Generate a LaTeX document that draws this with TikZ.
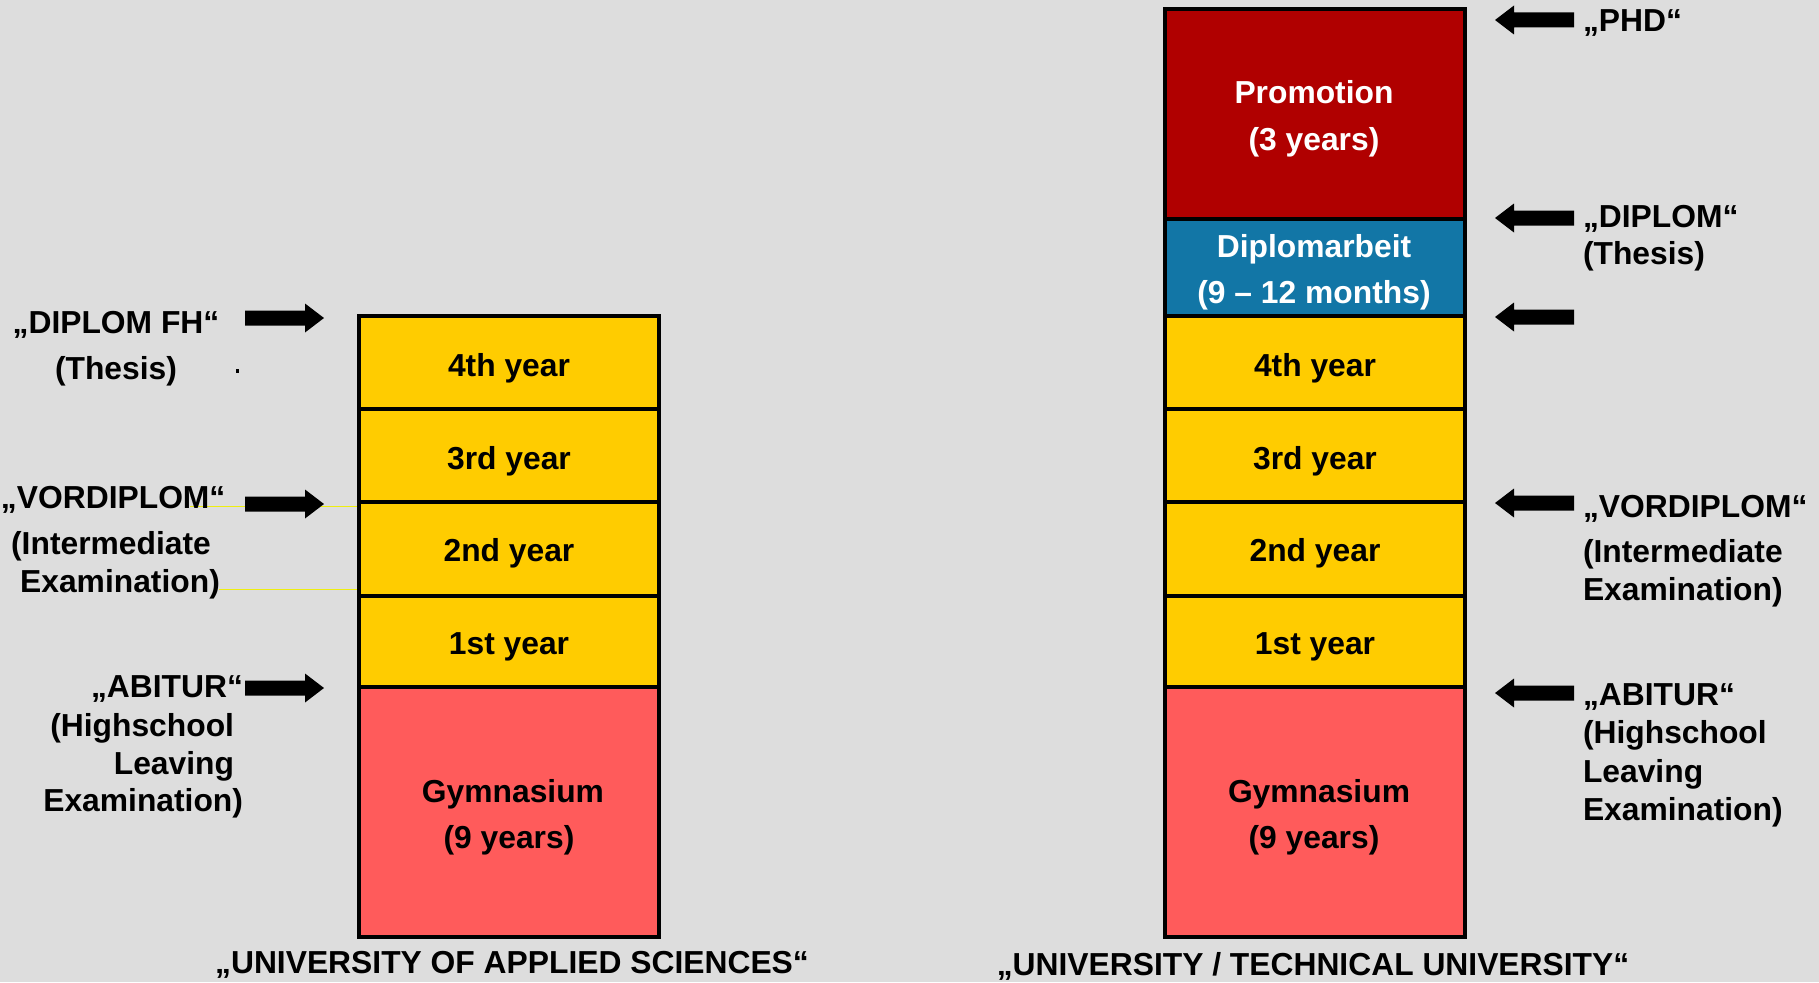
\documentclass[tikz,border=0pt]{standalone}
\usepackage{fontspec}
\setmainfont{Liberation Sans}
\definecolor{bgc}{HTML}{DDDDDD}
\definecolor{ylw}{HTML}{FFCC00}
\definecolor{salmon}{HTML}{FF5B5B}
\definecolor{dred}{HTML}{B00000}
\definecolor{dblue}{HTML}{1276A6}
\definecolor{guide}{HTML}{EEEE10}
\begin{document}
\begin{tikzpicture}[x=1pt,y=-1pt,
  every node/.style={inner sep=0pt,outer sep=0pt},
  cell/.style={draw=black,line width=3.6pt,minimum width=300pt},
  lbl/.style={font=\bfseries\fontsize{31.8}{38}\selectfont,anchor=base},
  rarrow/.pic={\fill[black] (0,0) -- (-19,-14.5) -- (-19,-7.5) -- (-79,-7.5)
      -- (-79,7.5) -- (-19,7.5) -- (-19,14.5) -- cycle;},
  larrow/.pic={\fill[black] (0,0) -- (19,-14.5) -- (19,-7.5) -- (79,-7.5)
      -- (79,7.5) -- (19,7.5) -- (19,14.5) -- cycle;}]
\useasboundingbox (0,0) rectangle (1819,982);
\fill[bgc] (0,0) rectangle (1819,982);

% thin guide lines on the left
\draw[guide,line width=1pt] (190,506.5) -- (358,506.5);
\draw[guide,line width=1pt] (219,589.5) -- (358,589.5);

% ---------- left column: university of applied sciences ----------
\node[cell,fill=ylw,minimum height=93pt]  (L4) at (509,362.5) {};
\node[cell,fill=ylw,minimum height=93pt]  (L3) at (509,455.5) {};
\node[cell,fill=ylw,minimum height=94pt]  (L2) at (509,549) {};
\node[cell,fill=ylw,minimum height=91pt]  (L1) at (509,641.5) {};
\node[cell,fill=salmon,minimum height=250pt] (LG) at (509,812) {};

\node[lbl] (tL4) at (509,376) {4th year};
\node[lbl] (tL3) at (509,469) {3rd year};
\node[lbl] (tL2) at (509,561) {2nd year};
\node[lbl] (tL1) at (509,654) {1st year};
\node[lbl] (tLGa) at (513,802) {Gymnasium};
\node[lbl] (tLGb) at (509,848) {(9 years)};

% ---------- right column: university / technical university ----------
\node[cell,fill=dred,minimum height=210pt] (RP) at (1315,114) {};
\node[cell,fill=dblue,minimum height=97pt] (RD) at (1315,267.5) {};
\node[cell,fill=ylw,minimum height=93pt]  (R4) at (1315,362.5) {};
\node[cell,fill=ylw,minimum height=93pt]  (R3) at (1315,455.5) {};
\node[cell,fill=ylw,minimum height=94pt]  (R2) at (1315,549) {};
\node[cell,fill=ylw,minimum height=91pt]  (R1) at (1315,641.5) {};
\node[cell,fill=salmon,minimum height=250pt] (RG) at (1315,812) {};

\node[lbl,text=white] (tRPa) at (1314,103) {Promotion};
\node[lbl,text=white] (tRPb) at (1314,150) {(3 years)};
\node[lbl,text=white] (tRDa) at (1314,257) {Diplomarbeit};
\node[lbl,text=white] (tRDb) at (1314,303) {(9 – 12 months)};
\node[lbl] (tR4) at (1315,376) {4th year};
\node[lbl] (tR3) at (1315,469) {3rd year};
\node[lbl] (tR2) at (1315,561) {2nd year};
\node[lbl] (tR1) at (1315,654) {1st year};
\node[lbl] (tRGa) at (1319,802) {Gymnasium};
\node[lbl] (tRGb) at (1314,848) {(9 years)};

% ---------- arrows ----------
\coordinate (aL1) at (324,318);
\coordinate (aL2) at (324,504);
\coordinate (aL3) at (324,688);
\pic at (aL1) {rarrow};
\pic at (aL2) {rarrow};
\pic at (aL3) {rarrow};

\coordinate (aR1) at (1495,20);
\coordinate (aR2) at (1495,218);
\coordinate (aR3) at (1495,317);
\coordinate (aR4) at (1495,503);
\coordinate (aR5) at (1495,693);
\pic at (aR1) {larrow};
\pic at (aR2) {larrow};
\pic at (aR3) {larrow};
\pic at (aR4) {larrow};
\pic at (aR5) {larrow};

% ---------- left annotations ----------
\node[lbl] (nDFH) at (116,333) {„DIPLOM FH“};
\node[lbl] (nDFHb) at (116,379) {(Thesis)};
\fill[black] (235.5,369) rectangle (238.5,373);
\node[lbl,anchor=base west] (nVDL) at (1,508) {„VORDIPLOM“};
\node[lbl] (nVDLb) at (111,554) {(Intermediate};
\node[lbl] (nVDLc) at (120,592) {Examination)};
\node[lbl,anchor=base east] (nABL) at (243,697) {„ABITUR“};
\node[lbl,anchor=base east] (nABLb) at (234,736) {(Highschool};
\node[lbl,anchor=base east] (nABLc) at (234,774) {Leaving};
\node[lbl,anchor=base east] (nABLd) at (243,811) {Examination)};

% ---------- right annotations ----------
\node[lbl,anchor=base west] (nPHD) at (1583,32) {„PHD“};
\node[lbl,anchor=base west] (nDIP) at (1583,227) {„DIPLOM“};
\node[lbl,anchor=base west] (nDIPb) at (1583,264) {(Thesis)};
\node[lbl,anchor=base west] (nVDR) at (1583,517) {„VORDIPLOM“};
\node[lbl,anchor=base west] (nVDRb) at (1583,562) {(Intermediate};
\node[lbl,anchor=base west] (nVDRc) at (1583,600) {Examination)};
\node[lbl,anchor=base west] (nABR) at (1583,705) {„ABITUR“};
\node[lbl,anchor=base west] (nABRb) at (1583,743) {(Highschool};
\node[lbl,anchor=base west] (nABRc) at (1583,782) {Leaving};
\node[lbl,anchor=base west] (nABRd) at (1583,820) {Examination)};

% ---------- column titles ----------
\node[lbl] (cap1) at (512,973) {„UNIVERSITY OF APPLIED SCIENCES“};
\node[lbl] (cap2) at (1313,975) {„UNIVERSITY / TECHNICAL UNIVERSITY“};
\end{tikzpicture}
\end{document}
